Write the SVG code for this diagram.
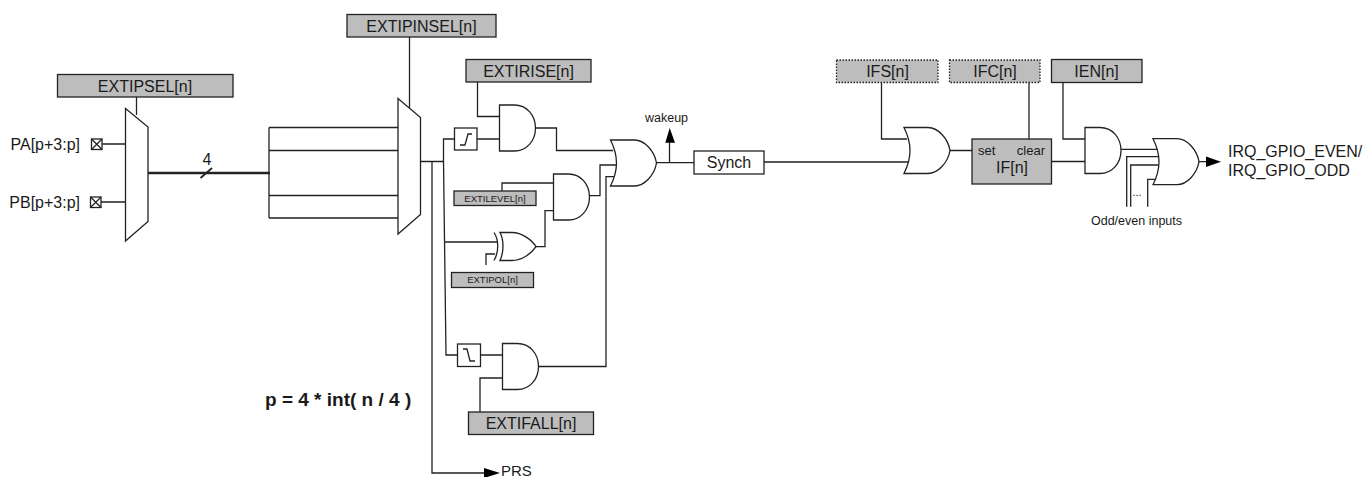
<svg xmlns="http://www.w3.org/2000/svg" width="1364" height="477" viewBox="0 0 1364 477">
<style>
text{font-family:"Liberation Sans",Arial,sans-serif;fill:#1a1a1a}
.t14{font-size:16px}.t11{font-size:13px}.t12{font-size:12.500px}.t10{font-size:11px}.t9{font-size:9.500px}
.m{text-anchor:middle}
.w{fill:none;stroke:#222;stroke-width:1.3}
.g{fill:#fff;stroke:#222;stroke-width:1.3}
.r{fill:#bdbdbd;stroke:#222;stroke-width:1.3}
.d{fill:#bdbdbd;stroke:#222;stroke-width:1.3;stroke-dasharray:1.5 1.5}
.a{fill:#000;stroke:none}
</style>
<defs>
<path id="and" d="M0,0H15C27,0 36,10 36,23C36,36 27,46 15,46H0Z"/>
<path id="or" d="M0,0H24C34,0 44,11 46,23C44,35 34,46 24,46H0C4,38 6,30 6,23C6,16 4,8 0,0Z"/>
</defs>
<g id="connectors" class="w">
<path d="M136.500,97V115M102,144H125.500M101,202H125.500"/>
<path d="M148,173H270" style="stroke-width:2.600"/>
<path d="M200.500,178L212,168" style="stroke-width:1.800"/>
<path d="M269,127.500V218M269,127.500H398M269,150.500H398M269,195.500H398M269,218H398"/>
<path d="M409.500,37V108M420.500,161.500H443M432,161.500V473H486"/>
<path d="M454.500,139H443.500V161.500L446,355H457.500M445,242H497M477,139H499.500M477.500,82V116.500H499.500"/>
<path d="M536,128H556.500V150.500H613M589.500,195.700H600V165H616.500M538.500,366.500H606V176.700H614"/>
<path d="M502,191V183H553.500M536,246.700H545V210.700H553.500M495,254H486V265"/>
<path d="M480.500,355H502.500M480,412V378H502.500"/>
<path d="M656,162.700H694M669.500,162.700V142"/>
<path d="M764,162H909M881.500,82.500V139H907M949.500,150.500H972M1029,82.500V139"/>
<path d="M1051.500,161.500H1085M1063,82.500V139H1085"/>
<path d="M1121,149.300H1157M1126.700,206.700V156.700H1158M1130.700,206.700V165H1158M1147.700,206.700V179.300H1155M1198.700,161.700H1207"/>
<polygon class="a" points="665.300,142.700 675,142.700 669.700,128"/>
<polygon class="a" points="484,468 500,473 484,478"/>
<polygon class="a" points="1206,156.500 1221,161.700 1206,167"/>
</g>
<g id="extipsel"><rect class="r" x="57.500" y="74.500" width="175.500" height="22.500"/><text class="t14 m" x="145" y="91.500">EXTIPSEL[n]</text></g>
<g id="pa"><text class="t14" x="80" y="149.500" text-anchor="end">PA[p+3:p]</text><rect class="g" x="91.500" y="139" width="10.500" height="10.500"/><path class="w" d="M91.500,139L102,149.500M102,139L91.500,149.500"/></g>
<g id="pb"><text class="t14" x="80" y="207.500" text-anchor="end">PB[p+3:p]</text><rect class="g" x="90.500" y="197" width="10.500" height="10.500"/><path class="w" d="M90.500,197L101,207.500M101,197L90.500,207.500"/></g>
<g id="mux1"><polygon class="g" points="125.500,108.500 148,127 148,221.500 125.500,241"/></g>
<text class="t14 m" x="207" y="165">4</text>
<g id="extipinsel"><rect class="r" x="347" y="14.500" width="149" height="22.500"/><text class="t14 m" x="421.500" y="31.500">EXTIPINSEL[n]</text></g>
<g id="mux2"><polygon class="g" points="398,98.500 420.500,117.500 420.500,214.500 398,234"/></g>
<g id="extirise"><rect class="r" x="466" y="59.500" width="125" height="22.500"/><text class="t14 m" x="528.500" y="76.500">EXTIRISE[n]</text></g>
<g id="rise"><rect class="g" x="454.500" y="128" width="22.500" height="22"/><path class="w" d="M460,145H465L468,134H472"/></g>
<use id="and1" href="#and" class="g" x="499.500" y="105"/>
<g id="extilevel"><rect class="r" x="454" y="191" width="82" height="14.500"/><text class="t9 m" x="495" y="201.500">EXTILEVEL[n]</text></g>
<use id="and2" href="#and" class="g" x="553.500" y="174"/>
<g id="xor"><path class="g" d="M500,232.500H512C522,232.500 532,240 536,246.700C532,253 522,260.500 512,260.500H500C504,252 504,240 500,232.500Z"/><path class="w" d="M494,232.500C499,240 499,252 494,260.500"/></g>
<g id="extipol"><rect class="r" x="451.500" y="272.500" width="82" height="15"/><text class="t9 m" x="492.500" y="283">EXTIPOL[n]</text></g>
<g id="fall"><rect class="g" x="457.500" y="344" width="23" height="22.500"/><path class="w" d="M463,349H467L470,361H475"/></g>
<use id="and3" href="#and" class="g" x="502.500" y="343.500"/>
<g id="extifall"><rect class="r" x="468.500" y="412" width="125" height="22.500"/><text class="t14 m" x="531" y="428.500">EXTIFALL[n]</text></g>
<use id="or1" href="#or" class="g" x="610.500" y="140"/>
<text class="t12 m" x="666.500" y="122">wakeup</text>
<g id="synch"><rect class="g" x="694" y="151" width="70" height="23"/><text class="t14 m" x="729" y="168">Synch</text></g>
<g id="ifs"><rect class="d" x="836.500" y="60" width="101.500" height="22.500"/><text class="t14 m" x="887.500" y="76.500">IFS[n]</text></g>
<g id="ifc"><rect class="d" x="949.500" y="60" width="90.500" height="22.500"/><text class="t14 m" x="995" y="76.500">IFC[n]</text></g>
<g id="ien"><rect class="r" x="1051.500" y="59.500" width="90.500" height="23"/><text class="t14 m" x="1096.500" y="76.500">IEN[n]</text></g>
<use id="or2" href="#or" class="g" x="904" y="127.500"/>
<g id="if"><rect class="r" x="972" y="139" width="79.500" height="45"/><text class="t11" x="978" y="154.500">set</text><text class="t11" x="1045" y="154.500" text-anchor="end">clear</text><text class="t14 m" x="1012" y="173">IF[n]</text></g>
<use id="and4" href="#and" class="g" x="1085" y="127.500"/>
<use id="or3" href="#or" class="g" x="1153" y="138.700"/>
<text class="t10 m" x="1137" y="196">...</text>
<text class="t12 m" x="1136.500" y="225">Odd/even inputs</text>
<g id="irq"><text class="t14" x="1228" y="157">IRQ_GPIO_EVEN/</text><text class="t14" x="1228" y="176">IRQ_GPIO_ODD</text></g>
<text x="265" y="405.500" style="font-size:19px;font-weight:bold">p = 4 * int( n / 4 )</text>
<text class="t14" x="501" y="476" style="font-size:15px">PRS</text>
</svg>
